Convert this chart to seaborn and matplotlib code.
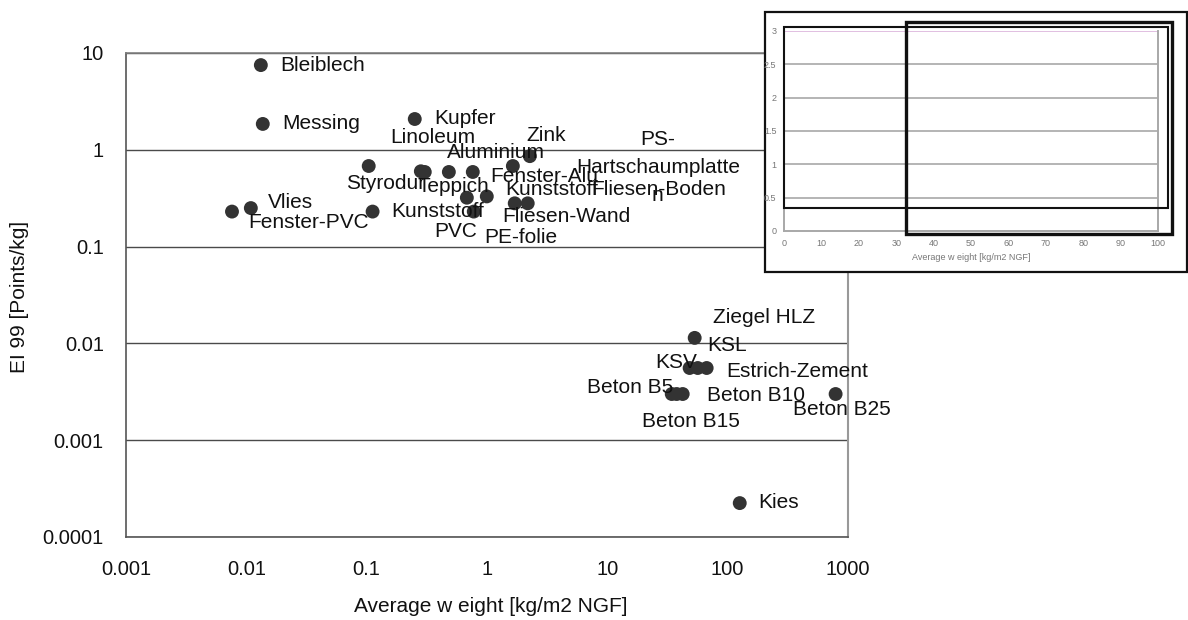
import matplotlib
matplotlib.use("Agg")
import matplotlib.pyplot as plt
from matplotlib.patches import Rectangle
import pandas as pd
import seaborn as sns

# ---- data -------------------------------------------------------------
materials = [
    "Bleiblech", "Messing", "Kupfer", "Vlies", "Fenster-PVC", "Styrodur",
    "Kunststoff", "Linoleum", "Teppich", "Aluminium", "Fenster-Alu",
    "Fliesen-Wand", "Kunststoff ", "PVC", "PS-\nHartschaumplatte\nn", "Zink",
    "PE-folie", "Fliesen-Boden",
    "Ziegel HLZ", "KSL", "KSV", "Estrich-Zement", "Beton B5", "Beton B15",
    "Beton B10", "Beton B25", "Kies",
]
weight = [
    0.0132, 0.0137, 0.251, 0.0109, 0.0076, 0.104,
    0.112, 0.282, 0.304, 0.482, 0.762,
    0.68, 0.996, 0.776, 1.64, 2.27,
    1.70, 2.18,
    53.2, 56.4, 48.3, 66.9, 34.3, 37.7,
    42.3, 789.0, 126.0,
]
ei99 = [
    7.5, 1.85, 2.08, 0.25, 0.23, 0.68,
    0.23, 0.60, 0.59, 0.59, 0.59,
    0.32, 0.33, 0.23, 0.68, 0.86,
    0.28, 0.28,
    0.0114, 0.00557, 0.00557, 0.00557, 0.0030, 0.0030,
    0.0030, 0.0030, 0.000224,
]

x_ticks = [0.001, 0.01, 0.1, 1, 10, 100, 1000]
x_tick_labels = ["0.001", "0.01", "0.1", "1", "10", "100", "1000"]
y_ticks = [0.0001, 0.001, 0.01, 0.1, 1, 10]
y_tick_labels = ["0.0001", "0.001", "0.01", "0.1", "1", "10"]

inset_x_ticks = [0, 10, 20, 30, 40, 50, 60, 70, 80, 90, 100]
inset_y_ticks = [0, 0.5, 1, 1.5, 2, 2.5, 3]
inset_y_tick_labels = ["0", "0.5", "1", "1.5", "2", "2.5", "3"]
# highlighted windows of the small linear view: (x0, x1, y0, y1)
zoom_windows = [(0, 102.6, 0.35, 3.065), (32.5, 103.7, -0.04, 3.13)]

x_title = "Average w eight [kg/m2 NGF]"
y_title = "EI 99 [Points/kg]"

# label placement: pixel offset from the point (right, down), alignment
label_offsets = {
    "Bleiblech": (19, 0, "left"),
    "Messing": (19, 0, "left"),
    "Kupfer": (19, -1, "left"),
    "Vlies": (17, -6, "left"),
    "Fenster-PVC": (16, 11, "left"),
    "Styrodur": (-23, 17, "left"),
    "Kunststoff": (19, 0, "left"),
    "Linoleum": (-31, -34, "left"),
    "Teppich": (-7, 15, "left"),
    "Aluminium": (-2, -19, "left"),
    "Fenster-Alu": (17, 5, "left"),
    "Fliesen-Wand": (35, 19, "left"),
    "Kunststoff ": (18, -7, "left"),
    "PVC": (-39, 20, "left"),
    "PS-\nHartschaumplatte\nn": (145, 1, "center"),
    "Zink": (-3, -21, "left"),
    "PE-folie": (-30, 34, "left"),
    "Fliesen-Boden": (64, -14, "left"),
    "Ziegel HLZ": (18, -20, "left"),
    "KSL": (10, -23, "left"),
    "KSV": (-34, -6, "left"),
    "Estrich-Zement": (20, 3, "left"),
    "Beton B5": (-85, -7, "left"),
    "Beton B15": (-35, 27, "left"),
    "Beton B10": (24, 1, "left"),
    "Beton B25": (-43, 15, "left"),
    "Kies": (19, -1, "left"),
}

df = pd.DataFrame({"material": materials, "weight": weight, "ei99": ei99})

# ---- style ------------------------------------------------------------
sns.set_style("white")
plt.rcParams["font.family"] = ["Liberation Sans", "DejaVu Sans"]

W, H = 1188, 620
fig = plt.figure(figsize=(W / 100, H / 100), dpi=100)
fig.patch.set_facecolor("white")

# main log-log panel
ax = fig.add_axes([126 / W, 1 - 537 / H, (848 - 126) / W, (537 - 53) / H])
ax.set_xscale("log")
ax.set_yscale("log")
sns.scatterplot(data=df, x="weight", y="ei99", ax=ax, s=100, color="#333333",
                edgecolor="none", linewidth=0, legend=False, zorder=2)
ax.set_xlim(0.001, 1000)
ax.set_ylim(0.0001, 10)
ax.set_xticks(x_ticks, x_tick_labels)
ax.set_yticks(y_ticks, y_tick_labels)
ax.minorticks_off()
ax.set_xlabel("")
ax.set_ylabel("")
ax.tick_params(axis="x", direction="inout", length=9, width=1.0, color="#555555",
               labelsize=14.5, pad=12, labelcolor="#111111")
ax.tick_params(axis="y", direction="out", length=7, width=1.0, color="#555555",
               labelsize=14.5, pad=9, labelcolor="#111111")
ax.grid(axis="y", color="#4a4a4a", linewidth=1.0)
ax.grid(axis="x", visible=False)
for side in ("left", "bottom"):
    ax.spines[side].set_color("#555555")
    ax.spines[side].set_linewidth(1.2)
ax.spines["right"].set_color("#999999")
ax.spines["right"].set_linewidth(1.5)
ax.spines["top"].set_color("#808080")
ax.spines["top"].set_linewidth(1.2)

for _, row in df.iterrows():
    dx, dy, ha = label_offsets[row["material"]]
    ax.annotate(row["material"].strip(), (row["weight"], row["ei99"]),
                xytext=(dx, -dy), textcoords="offset pixels",
                ha=ha, va="center", fontsize=15, color="#111111",
                multialignment="center", linespacing=1.6, zorder=3)

fig.text(491 / W, 1 - 607 / H, x_title, ha="center", va="center",
         fontsize=15, color="#111111")
fig.text(20 / W, 1 - 297 / H, y_title, ha="center", va="center",
         rotation=90, fontsize=15, color="#111111")

# framed linear overview in the upper right
frame = Rectangle((765 / W, 1 - 272 / H), (1187 - 765) / W, (272 - 12) / H,
                  transform=fig.transFigure, facecolor="white",
                  edgecolor="#111111", linewidth=1.6, zorder=5)
fig.add_artist(frame)

axi = fig.add_axes([784 / W, 1 - 231 / H, (1158 - 784) / W, (231 - 31) / H],
                   zorder=6)
axi.set_facecolor("none")
axi.set_xlim(0, 100)
axi.set_ylim(0, 3)
axi.set_xticks(inset_x_ticks, [str(t) for t in inset_x_ticks])
axi.set_yticks(inset_y_ticks, inset_y_tick_labels)
axi.tick_params(axis="both", direction="out", length=2.5, width=0.8,
                color="#999999", labelsize=6.5, labelcolor="#777777", pad=3)
for yv in inset_y_ticks[1:-1]:
    axi.axhline(yv, color="#a8a8a8", linewidth=1.2, zorder=1)
axi.axhline(inset_y_ticks[-1], color="#dcb4dc", linewidth=1.2, zorder=1)
for side in ("left", "bottom", "right"):
    axi.spines[side].set_color("#a8a8a8")
    axi.spines[side].set_linewidth(1.4)
axi.spines["top"].set_visible(False)
axi.set_xlabel(x_title, fontsize=6.5, color="#777777", labelpad=4)

for (x0, x1, y0, y1), lw in zip(zoom_windows, (1.5, 2.4)):
    axi.add_patch(Rectangle((x0, y0), x1 - x0, y1 - y0, fill=False,
                            edgecolor="#111111", linewidth=lw,
                            clip_on=False, zorder=4))

fig.savefig("out.png", dpi=100)
